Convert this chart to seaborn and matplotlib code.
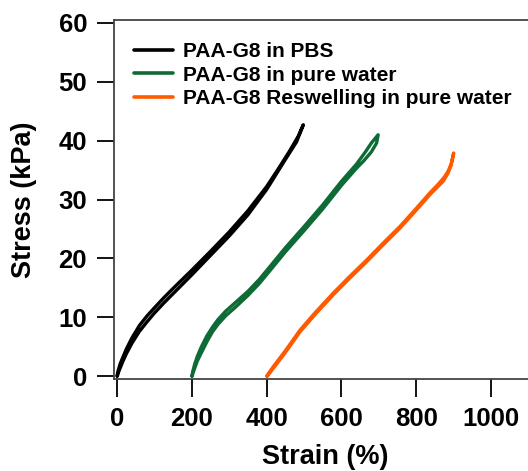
import numpy as np
import pandas as pd
import matplotlib
matplotlib.use("Agg")
import matplotlib.pyplot as plt
import seaborn as sns

# ---- data (strain %, stress kPa) ----
samples = ["PAA-G8 in PBS", "PAA-G8 in pure water", "PAA-G8 Reswelling in pure water"]
colors = ["#000000", "#0E6B35", "#FF5A00"]

pbs_load_x = [0, 3, 8, 15, 25, 40, 60, 80, 100, 125, 150, 200, 250, 300, 350, 400, 430, 460, 484, 498]
pbs_load_y = [0, 0.9, 2.0, 3.1, 4.6, 6.5, 8.6, 10.2, 11.6, 13.3, 14.9, 18.0, 21.2, 24.5, 28.1, 32.2, 35.1, 38.1, 40.7, 42.7]
pbs_unload_x = [498, 480, 450, 400, 350, 300, 250, 200, 150, 125, 100, 80, 60, 40, 25, 15, 8, 3, 1]
pbs_unload_y = [42.7, 39.8, 36.8, 31.7, 27.4, 23.8, 20.5, 17.2, 14.0, 12.4, 10.7, 9.2, 7.6, 5.6, 3.8, 2.4, 1.3, 0.5, 0]

water_load_x = [200, 203, 208, 215, 225, 240, 255, 270, 290, 320, 350, 380, 410, 450, 500, 550, 600, 640, 663, 680, 698]
water_load_y = [0, 0.9, 2.1, 3.4, 4.9, 6.8, 8.3, 9.6, 11.0, 12.7, 14.4, 16.4, 18.7, 21.8, 25.4, 29.1, 33.1, 36.0, 38.0, 39.6, 41.0]
water_unload_x = [698, 694, 680, 660, 640, 600, 550, 500, 450, 410, 380, 350, 320, 290, 270, 255, 240, 225, 215, 208, 203, 201]
water_unload_y = [41.0, 39.6, 38.1, 36.6, 35.3, 32.4, 28.4, 24.7, 21.1, 18.0, 15.7, 13.7, 11.9, 10.2, 8.8, 7.5, 5.8, 3.9, 2.6, 1.4, 0.5, 0]

resw_load_x = [400, 420, 450, 489, 530, 578, 620, 667, 710, 756, 800, 836, 860, 875, 885, 893, 900]
resw_load_y = [0, 1.8, 4.3, 7.8, 10.8, 14.1, 16.8, 19.7, 22.5, 25.4, 28.5, 31.1, 32.7, 33.8, 34.8, 36.0, 37.9]
resw_unload_x = [900, 893, 885, 872, 836, 800, 756, 710, 667, 620, 578, 530, 489, 450, 420, 402]
resw_unload_y = [37.9, 35.8, 34.5, 33.1, 30.8, 28.2, 25.1, 22.2, 19.4, 16.5, 13.8, 10.5, 7.5, 4.0, 1.5, 0]

x_ticks = [0, 200, 400, 600, 800, 1000]
y_ticks = [0, 10, 20, 30, 40, 50, 60]

# ---- build long table ----
parts = []
for name, (lx, ly, ux, uy) in zip(samples, [
        (pbs_load_x, pbs_load_y, pbs_unload_x, pbs_unload_y),
        (water_load_x, water_load_y, water_unload_x, water_unload_y),
        (resw_load_x, resw_load_y, resw_unload_x, resw_unload_y)]):
    x = list(lx) + list(ux)
    y = list(ly) + list(uy)
    parts.append(pd.DataFrame({"strain": x, "stress": y, "sample": name,
                               "cycle": name}))
df = pd.concat(parts, ignore_index=True)

sns.set_style("ticks")
plt.rcParams["font.family"] = ["Liberation Sans", "DejaVu Sans"]
plt.rcParams["font.weight"] = "bold"
for k in ["text.color", "axes.labelcolor", "xtick.color", "ytick.color"]:
    plt.rcParams[k] = "black"

W, H = 528, 471
fig = plt.figure(figsize=(W / 100, H / 100), dpi=100)
left_px, right_px, top_px, bot_px = 113.5, 536, 20, 379
ax = fig.add_axes([left_px / W, 1 - bot_px / H, (right_px - left_px) / W, (bot_px - top_px) / H])

sns.lineplot(data=df, x="strain", y="stress", hue="sample", units="cycle",
             estimator=None, sort=False, palette=colors, hue_order=samples,
             linewidth=2.4, ax=ax, legend=True,
             solid_joinstyle="round", solid_capstyle="round")

ax.set_xlim(-9.4, 1120)
ax.set_ylim(-0.5, 60.5)
ax.set_xticks(x_ticks)
ax.set_yticks(y_ticks)
ax.set_xticklabels([str(v) for v in x_ticks], fontsize=18.5, fontweight="bold")
ax.set_yticklabels([str(v) for v in y_ticks], fontsize=18.5, fontweight="bold")
ax.tick_params(axis="y", direction="out", length=12, width=1.3, color="black", pad=7)
ax.tick_params(axis="x", direction="out", length=13, width=1.3, color="black", pad=7)

for side in ["left", "bottom", "top"]:
    ax.spines[side].set_color("#444444")
    ax.spines[side].set_linewidth(1.3)
    ax.spines[side].set_visible(True)
ax.spines["right"].set_visible(False)

ax.set_xlabel("Strain (%)", fontsize=19.5, fontweight="bold")
ax.set_ylabel("Stress (kPa)", fontsize=19.5, fontweight="bold")
ax.xaxis.set_label_coords(325 / W, 1 - 444 / H, transform=fig.transFigure)
ax.yaxis.set_label_coords(37 / W, 1 - 200 / H, transform=fig.transFigure)

handles, labels = ax.get_legend_handles_labels()
leg = ax.legend(handles, labels, loc="upper left",
                bbox_to_anchor=(134 / W, 1 - 42 / H), bbox_transform=fig.transFigure,
                frameon=False, handlelength=1.85, handletextpad=0.48,
                labelspacing=0.22, borderpad=0, borderaxespad=0,
                prop={"weight": "bold", "size": 15.0})
for line in leg.get_lines():
    line.set_linewidth(2.6)

fig.savefig("out.png", dpi=100)
